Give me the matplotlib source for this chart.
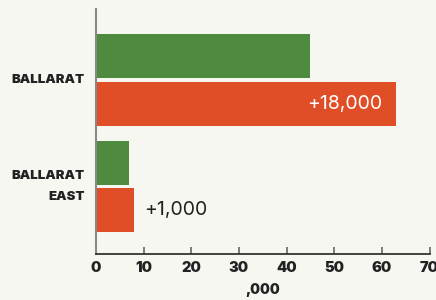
import matplotlib
matplotlib.use("Agg")
import matplotlib.pyplot as plt
import numpy as np

# data (thousands)
places = ["BALLARAT", "BALLARAT\nEAST"]
before = [45, 7]
after = [63, 8]
change_labels = ["+18,000", "+1,000"]
xticks = [0, 10, 20, 30, 40, 50, 60, 70]

bg = "#f7f7f2"
green = "#4e8b3f"
red = "#e04e27"
dark = "#222222"

fig = plt.figure(figsize=(4.36, 3.0), dpi=100, facecolor=bg)
ax = fig.add_axes([96/436, 46/300, (429.5-96)/436, 245/300])
ax.set_facecolor(bg)

y = np.arange(len(places))
h = 0.413
off = 0.225
ax.barh(y - off, before, height=h, color=green)
ax.barh(y + off, after, height=h, color=red)

# change labels
ax.text(after[0] - 3, y[0] + off, change_labels[0], color="white",
        ha="right", va="center", fontsize=14, family="Inter")
ax.text(after[1] + 2, y[1] + off, change_labels[1], color=dark,
        ha="left", va="center", fontsize=14, family="Inter")

ax.set_xlim(0, 70)
ax.set_ylim(1.634, -0.667)
ax.set_yticks(y)
ax.set_yticklabels(places, fontsize=9.5, fontweight="black", family="Inter",
                   color=dark, ha="right", va="center", linespacing=1.9)
ax.tick_params(axis="y", length=0, pad=8)
ax.set_xticks(xticks)
ax.set_xticklabels([str(t) for t in xticks], fontsize=10.5, fontweight="black",
                   family="Inter", color=dark)
ax.tick_params(axis="x", direction="in", length=5, width=1.2, color="#666666", pad=5)
ax.set_xlabel(",000", fontsize=10, fontweight="black", family="Inter",
              color=dark, labelpad=6)

for s in ["top", "right"]:
    ax.spines[s].set_visible(False)
ax.spines["left"].set_color("#888888")
ax.spines["left"].set_linewidth(1.5)
ax.spines["bottom"].set_color("#333333")
ax.spines["bottom"].set_linewidth(1.3)

fig.savefig("out.png", dpi=100, facecolor=bg)
